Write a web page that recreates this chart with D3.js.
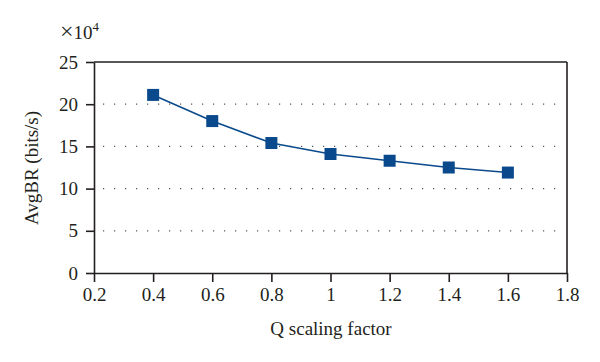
<!DOCTYPE html>
<html lang="en">
<head>
<meta charset="UTF-8" />
<title>AvgBR vs Q scaling factor</title>
<script src="https://d3js.org/d3.v7.min.js"></script>
<style>
    body { margin: 0; background: #fff; }
    text { font-family: "Liberation Serif", "DejaVu Serif", serif; fill: #231f20; }
</style>
</head>
<body>
<div id="chart"></div>
<script>
    var w = 600;
    var h = 362;

    // data (AvgBR in units of 1e4 bits/s)
    var qFactor = [0.4, 0.6, 0.8, 1.0, 1.2, 1.4, 1.6];
    var avgBR = [21.1, 18.0, 15.4, 14.1, 13.3, 12.5, 11.9];
    var xTicks = [0.2, 0.4, 0.6, 0.8, 1, 1.2, 1.4, 1.6, 1.8];
    var yTicks = [0, 5, 10, 15, 20, 25];
    var gridValues = [5, 10, 15, 20];

    var plotLeft = 94, plotRight = 567, plotTop = 62, plotBottom = 273;
    var blue = "#0a4a8c";

    var svg = d3.select("#chart")
        .append("svg")
        .attr("width", w)
        .attr("height", h);

    var xScale = d3.scaleLinear().domain([0.2, 1.8]).range([plotLeft, plotRight]);
    var yScale = d3.scaleLinear().domain([0, 25]).range([plotBottom, plotTop]);

    // dotted grid lines
    svg.selectAll(".grid")
        .data(gridValues)
        .enter()
        .append("line")
        .attr("class", "grid")
        .attr("x1", plotLeft + 9)
        .attr("x2", plotRight - 8)
        .attr("y1", function (d) { return yScale(d); })
        .attr("y2", function (d) { return yScale(d); })
        .style("stroke", "#555")
        .style("stroke-width", 1.2)
        .style("stroke-dasharray", "1.2,9.8");

    // axes
    var xAxis = d3.axisBottom(xScale)
        .tickValues(xTicks)
        .tickSize(9)
        .tickSizeOuter(0)
        .tickPadding(6)
        .tickFormat(function (d) { return d3.format("")(+d.toFixed(1)); });

    var yAxis = d3.axisLeft(yScale)
        .tickValues(yTicks)
        .tickSize(8)
        .tickSizeOuter(0)
        .tickPadding(8);

    var gx = svg.append("g")
        .attr("transform", "translate(0," + plotBottom + ")")
        .call(xAxis);
    var gy = svg.append("g")
        .attr("transform", "translate(" + plotLeft + ",0)")
        .call(yAxis);

    [gx, gy].forEach(function (g) {
        g.attr("font-size", null).attr("font-family", null);
        g.selectAll("path, line").style("stroke", "#231f20").style("stroke-width", 1.6);
        g.selectAll("text").style("font-size", "19px").style("fill", "#231f20");
    });

    // frame top and right
    svg.append("line")
        .attr("x1", plotLeft).attr("x2", plotRight)
        .attr("y1", plotTop).attr("y2", plotTop)
        .style("stroke", "#231f20").style("stroke-width", 1.6);
    svg.append("line")
        .attr("x1", plotRight).attr("x2", plotRight)
        .attr("y1", plotTop).attr("y2", plotBottom)
        .style("stroke", "#231f20").style("stroke-width", 1.6);

    // series line
    var line = d3.line()
        .x(function (d, i) { return xScale(qFactor[i]); })
        .y(function (d) { return yScale(d); });

    svg.append("path")
        .datum(avgBR)
        .attr("d", line)
        .style("fill", "none")
        .style("stroke", blue)
        .style("stroke-width", 1.6);

    var m = 12;
    svg.selectAll(".marker")
        .data(avgBR)
        .enter()
        .append("rect")
        .attr("class", "marker")
        .attr("x", function (d, i) { return xScale(qFactor[i]) - m / 2; })
        .attr("y", function (d) { return yScale(d) - m / 2; })
        .attr("width", m)
        .attr("height", m)
        .style("fill", blue);

    // axis titles
    svg.append("text")
        .attr("x", 331)
        .attr("y", 335)
        .attr("text-anchor", "middle")
        .style("font-size", "19px")
        .text("Q scaling factor");

    svg.append("text")
        .attr("transform", "translate(38,168) rotate(-90)")
        .attr("text-anchor", "middle")
        .style("font-size", "19px")
        .text("AvgBR (bits/s)");

    // x10^4 multiplier
    var mult = svg.append("text")
        .attr("x", 60)
        .attr("y", 39)
        .style("font-size", "19px");
    mult.append("tspan").style("font-size", "24px").text("\u00d7");
    mult.append("tspan").text("10");
    mult.append("tspan")
        .attr("dy", -8)
        .style("font-size", "13px")
        .text("4");
</script>
</body>
</html>
